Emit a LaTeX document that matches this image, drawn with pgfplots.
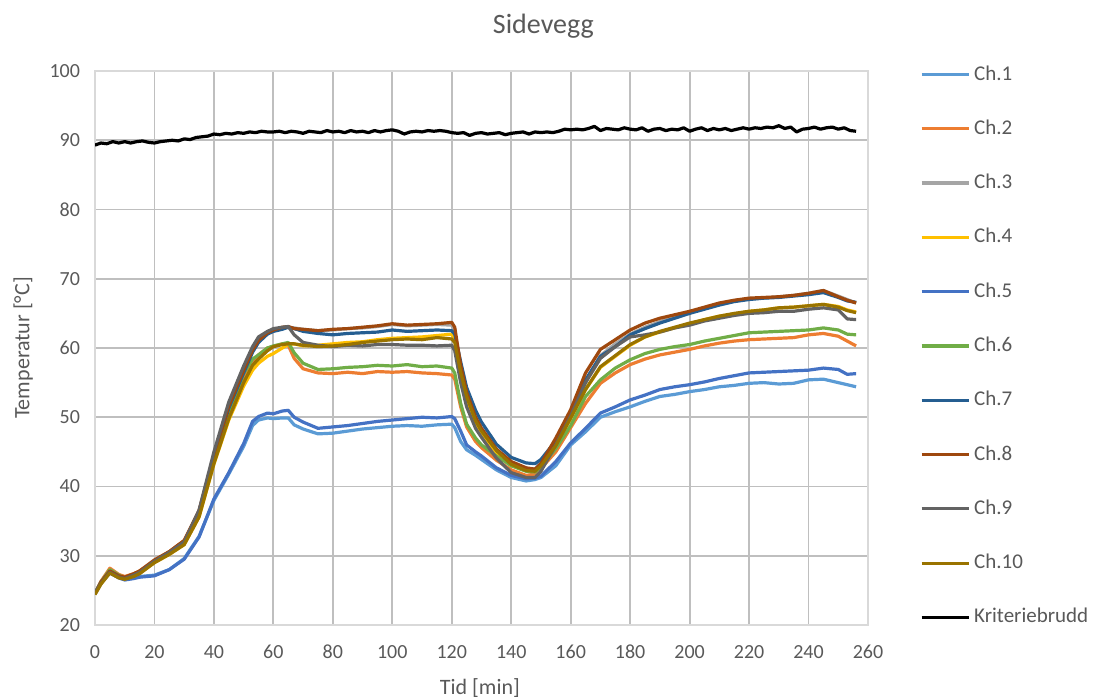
\documentclass[border=0pt]{standalone}
\usepackage{fontspec}
\setmainfont{Carlito}
\usepackage{pgfplots}
\usepackage{pgfplotstable}
\pgfplotsset{compat=1.18}

\definecolor{txt}{HTML}{595959}
\definecolor{grid}{HTML}{D9D9D9}
\definecolor{c1}{HTML}{5B9BD5}
\definecolor{c2}{HTML}{ED7D31}
\definecolor{c3}{HTML}{A5A5A5}
\definecolor{c4}{HTML}{FFC000}
\definecolor{c5}{HTML}{4472C4}
\definecolor{c6}{HTML}{70AD47}
\definecolor{c7}{HTML}{255E91}
\definecolor{c8}{HTML}{9E480E}
\definecolor{c9}{HTML}{636363}
\definecolor{c10}{HTML}{997300}

% channel temperatures
\pgfplotstableread{
t   c1   c2   c3   c4   c5   c6   c7   c8   c9   c10
0   24.5 24.6 24.6 24.5 24.6 24.5 24.6 24.5 24.6 24.4
2   26.0 26.3 26.2 26.0 26.1 26.2 26.1 26.2 26.0 25.9
5   27.6 28.2 27.8 27.6 27.5 28.0 27.7 27.8 27.6 27.5
8   26.9 27.3 27.0 26.9 26.8 27.2 27.0 27.1 26.9 26.8
10  26.6 27.0 26.7 26.6 26.5 26.8 26.7 26.9 26.7 26.6
13  26.8 27.4 27.2 27.1 26.7 27.3 27.2 27.4 27.2 27.0
15  27.0 27.8 27.7 27.5 26.9 27.7 27.6 27.8 27.6 27.4
20  27.2 29.3 29.2 29.0 27.1 29.2 29.2 29.4 29.2 29.0
25  28.0 30.6 30.4 30.2 28.0 30.5 30.4 30.6 30.5 30.2
30  29.6 32.2 31.9 31.6 29.5 32.0 31.9 32.2 32.0 31.6
35  32.8 36.5 36.2 35.6 32.7 36.0 36.2 36.5 36.6 35.6
40  38.0 44.0 44.3 43.2 38.2 43.6 44.2 44.5 45.0 43.3
45  41.8 50.4 51.2 49.6 42.0 50.6 51.3 51.6 52.2 49.8
50  45.8 55.8 56.5 54.5 46.2 56.3 56.4 56.8 57.4 55.0
53  48.8 58.0 59.5 56.8 49.4 58.4 59.4 59.7 60.2 57.5
55  49.6 59.0 61.0 57.8 50.1 59.0 60.8 61.1 61.6 58.4
58  49.9 60.0 62.1 58.8 50.6 60.0 62.0 62.2 62.4 59.6
60  49.8 60.2 62.6 59.2 50.5 60.3 62.4 62.6 62.8 60.2
63  49.9 60.6 62.9 60.0 50.9 60.6 62.7 63.0 63.0 60.5
65  49.9 60.4 63.0 60.5 51.0 60.8 63.0 63.1 63.1 60.6
67  48.9 58.5 62.9 60.6 50.0 59.3 62.8 62.8 61.9 60.6
70  48.3 57.0 62.7 60.3 49.3 57.8 62.4 62.7 60.8 60.4
75  47.6 56.4 62.5 60.4 48.4 56.9 62.1 62.5 60.4 60.2
80  47.7 56.3 62.6 60.6 48.6 57.0 61.9 62.7 60.2 60.3
85  48.0 56.5 62.8 60.8 48.8 57.2 62.1 62.8 60.4 60.5
90  48.3 56.3 62.9 60.9 49.1 57.3 62.2 63.0 60.3 60.8
95  48.5 56.6 63.1 61.2 49.4 57.5 62.3 63.2 60.5 61.0
100 48.7 56.5 63.4 61.4 49.6 57.4 62.6 63.5 60.5 61.2
105 48.8 56.6 63.2 61.5 49.8 57.6 62.4 63.3 60.4 61.3
110 48.7 56.4 63.3 61.6 50.0 57.3 62.5 63.4 60.4 61.2
115 48.9 56.3 63.4 61.8 49.9 57.4 62.6 63.5 60.3 61.5
120 49.0 56.1 63.3 62.0 50.1 57.1 62.5 63.7 60.4 61.3
121 48.5 55.5 62.5 61.3 49.8 56.4 62.0 63.0 59.6 60.8
123 46.5 51.5 56.5 56.0 48.0 52.0 58.0 57.5 55.0 56.5
125 45.3 48.6 53.0 52.6 46.0 49.0 54.3 53.6 51.5 53.0
128 44.5 46.5 49.5 49.0 45.0 47.0 51.0 50.0 48.4 49.5
130 43.9 45.6 48.0 47.6 44.4 46.0 49.3 48.4 47.1 48.0
135 42.4 43.8 45.2 44.9 42.7 44.4 46.1 45.4 44.1 45.2
140 41.3 42.4 43.3 43.0 41.6 43.0 44.2 43.6 42.0 43.2
145 40.8 41.6 42.6 42.3 41.1 42.2 43.4 42.7 41.3 42.3
148 41.0 41.8 42.5 42.3 41.2 42.1 43.3 42.5 41.3 42.2
150 41.3 42.6 43.5 43.0 41.5 42.8 43.9 43.3 42.2 43.0
155 43.0 45.0 46.4 46.0 43.6 45.5 46.6 47.0 46.0 45.9
160 46.0 48.5 50.4 49.8 46.3 48.8 50.4 51.1 50.2 49.9
165 47.9 52.0 55.0 54.0 48.4 53.0 55.4 56.4 55.0 54.0
170 50.0 54.9 58.9 57.2 50.6 55.4 58.8 59.8 58.5 57.3
175 50.8 56.4 60.6 58.8 51.5 57.1 60.2 61.2 60.2 58.9
180 51.5 57.6 62.0 60.4 52.5 58.3 61.9 62.6 61.6 60.5
185 52.3 58.4 63.0 61.6 53.2 59.2 62.8 63.6 61.9 61.6
190 53.0 59.0 63.8 62.3 54.0 59.8 63.6 64.3 62.3 62.4
195 53.3 59.4 64.6 62.9 54.4 60.2 64.3 64.8 62.9 63.0
200 53.7 59.8 65.1 63.5 54.7 60.5 65.0 65.3 63.3 63.6
205 54.0 60.3 65.8 64.1 55.1 61.0 65.6 65.9 63.9 64.1
210 54.4 60.7 66.3 64.6 55.6 61.4 66.2 66.5 64.3 64.6
215 54.6 61.0 66.8 64.9 56.0 61.8 66.7 66.9 64.7 65.0
220 54.9 61.2 67.1 65.3 56.4 62.2 67.0 67.2 65.0 65.3
225 55.0 61.3 67.2 65.5 56.5 62.3 67.2 67.3 65.1 65.5
230 54.8 61.4 67.4 65.8 56.6 62.4 67.3 67.4 65.3 65.8
235 54.9 61.5 67.6 65.9 56.7 62.5 67.5 67.6 65.3 65.9
240 55.4 61.9 67.9 66.1 56.8 62.6 67.7 67.9 65.6 66.1
245 55.5 62.1 68.3 66.3 57.1 62.9 68.0 68.3 65.8 66.3
250 55.0 61.7 67.5 66.0 56.9 62.6 67.3 67.4 65.5 65.9
253 54.7 61.0 67.0 65.5 56.2 62.0 66.8 66.9 64.2 65.4
256 54.4 60.3 66.5 65.2 56.3 61.9 66.6 66.5 64.1 65.1
}\chdata

% failure criterion
\pgfplotstableread{
t k
0 89.3
2 89.6
4 89.5
6 89.8
8 89.6
10 89.8
12 89.6
14 89.8
16 89.9
18 89.7
20 89.6
22 89.8
24 89.9
26 90.0
28 89.9
30 90.2
32 90.1
34 90.4
36 90.5
38 90.6
40 90.9
42 90.8
44 91.0
46 90.9
48 91.1
50 91.0
52 91.2
54 91.1
56 91.3
58 91.2
60 91.2
62 91.3
64 91.1
66 91.3
68 91.2
70 91.0
72 91.3
74 91.2
76 91.1
78 91.4
80 91.2
82 91.3
84 91.1
86 91.4
88 91.2
90 91.3
92 91.1
94 91.4
96 91.2
98 91.4
100 91.5
102 91.3
104 90.9
106 91.2
108 91.3
110 91.2
112 91.4
114 91.3
116 91.4
118 91.3
120 91.1
122 91.0
124 91.1
126 90.7
128 91.0
130 91.1
132 90.9
134 91.0
136 91.1
138 90.8
140 91.0
142 91.1
144 91.2
146 90.9
148 91.2
150 91.1
152 91.2
154 91.1
156 91.3
158 91.6
160 91.5
162 91.6
164 91.5
166 91.7
168 92.0
170 91.4
172 91.7
174 91.6
176 91.5
178 91.8
180 91.6
182 91.5
184 91.8
186 91.3
188 91.6
190 91.7
192 91.4
194 91.6
196 91.5
198 91.8
200 91.3
202 91.6
204 91.8
206 91.4
208 91.7
210 91.5
212 91.7
214 91.4
216 91.6
218 91.8
220 91.6
222 91.8
224 91.7
226 91.9
228 91.8
230 92.1
232 91.7
234 91.9
236 91.2
238 91.6
240 91.7
242 91.9
244 91.6
246 91.8
248 91.9
250 91.6
252 91.8
254 91.4
256 91.3
}\krit

\begin{document}
\begin{tikzpicture}
\useasboundingbox (0,0) rectangle (546.5pt,349.5pt);
\begin{axis}[
    at={(47.5pt,37pt)}, anchor=south west,
    scale only axis,
    width=386.5pt, height=277pt,
    xmin=0, xmax=260, ymin=20, ymax=100,
    xtick={0,20,...,260}, ytick={20,30,...,100},
    major tick length=0pt,
    grid=major,
    grid style={grid, line width=0.9pt},
    axis line style={grid, line width=0.9pt},
    tick label style={font=\fontsize{10}{11}\selectfont, text=txt},
    /pgf/number format/assume math mode=true,
    xticklabel style={yshift=-6.5pt},
    yticklabel style={xshift=-4pt},
    title={Sidevegg},
    title style={font=\fontsize{14}{15}\selectfont, text=txt,
        at={(axis description cs:0.58,1)}, anchor=center, yshift=16.5pt},
    xlabel={Tid [min]},
    xlabel style={font=\fontsize{11}{12}\selectfont, text=txt,
        at={(axis description cs:0.498,0)}, anchor=center, yshift=-31.5pt},
    ylabel={Temperatur [°C]},
    ylabel style={font=\fontsize{11}{12}\selectfont, text=txt,
        at={(axis description cs:-0.093,0.5)}, anchor=center},
    legend cell align=left,
    legend style={at={(1.059,1.0206)}, anchor=north west, draw=none, fill=none,
        font=\fontsize{10.5}{11}\selectfont, text=txt,
        nodes={text height=8pt, text depth=2.5pt, inner ysep=0pt, inner xsep=2pt},
        row sep=16.65pt},
    legend image code/.code={\draw[#1, line width=1.6pt] (0pt,0pt) -- (23.5pt,0pt);},
    every axis plot/.append style={line width=1.6pt, line join=round},
]
\addplot[c1]  table[x=t, y=c1]  {\chdata};
\addplot[c2]  table[x=t, y=c2]  {\chdata};
\addplot[c3]  table[x=t, y=c3]  {\chdata};
\addplot[c4]  table[x=t, y=c4]  {\chdata};
\addplot[c5]  table[x=t, y=c5]  {\chdata};
\addplot[c6]  table[x=t, y=c6]  {\chdata};
\addplot[c7]  table[x=t, y=c7]  {\chdata};
\addplot[c8]  table[x=t, y=c8]  {\chdata};
\addplot[c9]  table[x=t, y=c9]  {\chdata};
\addplot[c10] table[x=t, y=c10] {\chdata};
\addplot[black] table[x=t, y=k] {\krit};
\legend{Ch.1,Ch.2,Ch.3,Ch.4,Ch.5,Ch.6,Ch.7,Ch.8,Ch.9,Ch.10,Kriteriebrudd}
\end{axis}
\end{tikzpicture}
\end{document}
